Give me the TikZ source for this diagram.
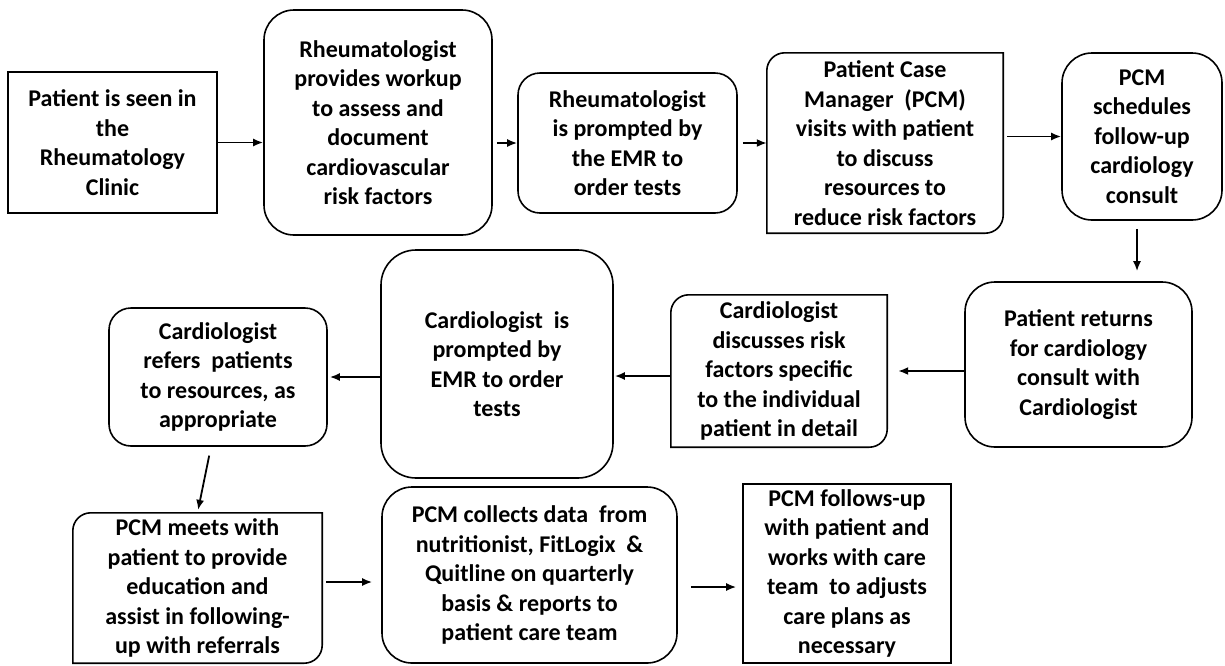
\documentclass[tikz,border=0pt]{standalone}
\usepackage{fontspec}
\setmainfont{Carlito}
\usepackage{tikz}
\usetikzlibrary{arrows,arrows.meta}
\usetikzlibrary{calc}

% Kasten mit runder Ecke oben links und unten rechts
\newcommand{\halfround}[1]{%
	\draw[line width=1.6pt] ([yshift=-18pt]#1.north west) arc[start angle=180,end angle=90,radius=18pt] -- (#1.north east) -- ([yshift=18pt]#1.south east) arc[start angle=0,end angle=-90,radius=18pt] -- (#1.south west) -- cycle;}

\begin{document}
\begin{tikzpicture}[x=1pt,y=-1pt,
	txt/.style={align=center,inner sep=0pt,font=\bfseries\fontsize{24}{29.5}\selectfont},
	box/.style={txt,draw,line width=1.6pt},
	rbox/.style={box,rounded corners=#1},
	arr/.style={line width=1.8pt,-{Latex[length=10pt,width=8pt]}}]
	\useasboundingbox (0,0) rectangle (1225,665);
	\node[box,minimum width=209pt,minimum height=141pt] (A1) at (112.5,142.5) {Patient is seen in\\the\\Rheumatology\\Clinic};
	\node[rbox=30pt,minimum width=228pt,minimum height=225pt] (A2) at (378,122.5) {Rheumatologist\\provides workup\\to assess and\\document\\cardiovascular\\risk factors};
	\node[rbox=22pt,minimum width=219pt,minimum height=140pt] (A3) at (627.5,143) {Rheumatologist\\is prompted by\\the EMR to\\order tests};
	\node[txt,minimum width=236pt,minimum height=180pt] (A4) at (885,143) {Patient Case\\Manager~ (PCM)\\visits with patient\\to discuss\\resources to\\reduce risk factors};
	\halfround{A4}
	\node[rbox=30pt,minimum width=160pt,minimum height=167pt] (A5) at (1142,136.5) {PCM\\schedules\\follow-up\\cardiology\\consult};
	\draw[arr] (A1.east) -- (A1.east -| A2.west);
	\draw[arr,shorten <=4pt] (A2.east |- A3.west) -- (A3.west);
	\draw[arr,shorten <=5pt] (A3.east) -- (A4.west);
	\draw[arr,shorten <=4pt] (A4.east |- A5.west) -- (A5.west);
	
	\node[rbox=30pt,minimum width=227pt,minimum height=165pt] (B1) at (1078.5,364.5) {Patient returns\\for cardiology\\consult with\\Cardiologist};
	\node[txt,minimum width=216pt,minimum height=152pt] (B2) at (779,371) {Cardiologist\\discusses risk\\factors specific\\to the individual\\patient in detail};
	\halfround{B2}
	\node[rbox=35pt,minimum width=232pt,minimum height=228pt] (B3) at (497,364) {Cardiologist~ is\\prompted by\\EMR to order\\tests};
	\node[rbox=22pt,minimum width=218pt,minimum height=138pt] (B4) at (218,377) {Cardiologist\\refers~ patients\\to resources, as\\appropriate};
	\draw[arr,shorten <=8pt,shorten >=10pt] ([xshift=-5pt]A5.south) -- ([xshift=-5pt]A5.south |- B1.north);
	\draw[arr,shorten >=11pt] (B1.west |- B2.east) -- (B2.east);
	\draw[arr,shorten >=1pt] ([yshift=-5pt]B2.west) -- ([yshift=-5pt]B2.west -| B3.east);
	\draw[arr,shorten >=2pt] (B3.west |- B4.east) -- (B4.east);
	
	\node[txt,minimum width=249pt,minimum height=150pt] (C1) at (197.5,588) {PCM meets with\\patient to provide\\education and\\assist in following-\\up with referrals};
	\halfround{C1}
	\node[rbox=30pt,minimum width=295pt,minimum height=176pt] (C2) at (529.5,575) {PCM collects data~ from\\nutritionist, FitLogix~ \&\\Quitline on quarterly\\basis \& reports to\\patient care team};
	\node[box,minimum width=208pt,minimum height=179pt] (C3) at (847,573.5) {PCM follows-up\\with patient and\\works with care\\team~ to adjusts\\care plans as\\necessary};
	\draw[arr,shorten <=9pt,shorten >=3pt] ([xshift=-7pt]B4.south) -- (C1.north);
	\draw[arr,shorten <=4pt,shorten >=9pt] ([yshift=6pt]C1.east) -- ([yshift=6pt]C1.east -| C2.west);
	\draw[arr,shorten <=13pt,shorten >=6pt] ([yshift=-12pt]C2.east) -- ([yshift=-12pt]C2.east -| C3.west);
\end{tikzpicture}
\end{document}
